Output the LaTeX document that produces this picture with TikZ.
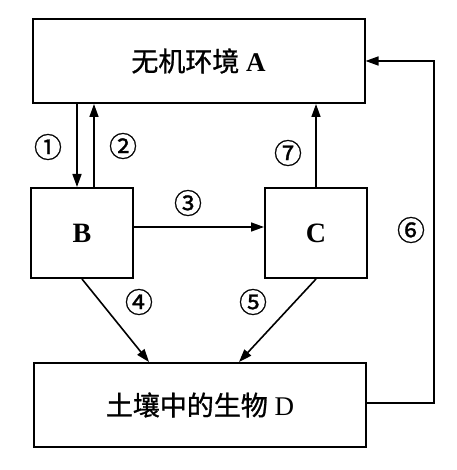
\documentclass[tikz,border=0pt]{standalone}
\usepackage{fontspec}
\setmainfont{Liberation Serif}
\newfontfamily\cjk{Noto Sans CJK SC}[FakeBold=1]
\usetikzlibrary{arrows.meta}

\begin{document}
\begin{tikzpicture}[x=1pt, y=-1pt,
  box/.style={draw, line width=2pt, inner sep=0pt, font=\fontsize{27}{30}\selectfont},
  wide/.style={box, minimum width=332pt, minimum height=84pt},
  small/.style={box, minimum width=102pt, minimum height=90pt, font=\fontsize{28}{30}\selectfont\bfseries},
  flow/.style={-{Triangle[length=13pt,width=9pt]}, line width=1.6pt},
  num/.style={inner sep=0pt, font=\cjk\fontsize{28}{28}\selectfont}
]
\useasboundingbox (0,0) rectangle (456,470);

\node[wide] (envA)  at (198.5, 61) {{\cjk 无机环境} \textbf{A}};
\node[small] (bioB) at (82, 233)   {B};
\node[small] (bioC) at (316, 233)  {C};
\node[wide] (soilD) at (200, 405)  {{\cjk 土壤中的生物} D};

\draw[flow] ([xshift=-5pt]bioB.north |- envA.south) -- ([xshift=-5pt]bioB.north);
\draw[flow] ([xshift=12pt]bioB.north) -- ([xshift=12pt]bioB.north |- envA.south);
\draw[flow] ([yshift=6pt]bioB.east) -- ([yshift=6pt]bioC.west);
\draw[flow] (bioB.south) -- ([xshift=116pt]soilD.north west);
\draw[flow] (bioC.south) -- ([xshift=206pt]soilD.north west);
\draw[flow] ([yshift=2pt]soilD.east) -- ++(67,0) |- (envA.east);
\draw[flow] (bioC.north) -- (bioC.north |- envA.south);

\node[num] (n1) at (48, 147)  {①};
\node[num] (n2) at (123, 146) {②};
\node[num] (n3) at (188, 203) {③};
\node[num] (n4) at (139, 302) {④};
\node[num] (n5) at (253, 302) {⑤};
\node[num] (n6) at (411, 230) {⑥};
\node[num] (n7) at (288, 153) {⑦};

\end{tikzpicture}
\end{document}
